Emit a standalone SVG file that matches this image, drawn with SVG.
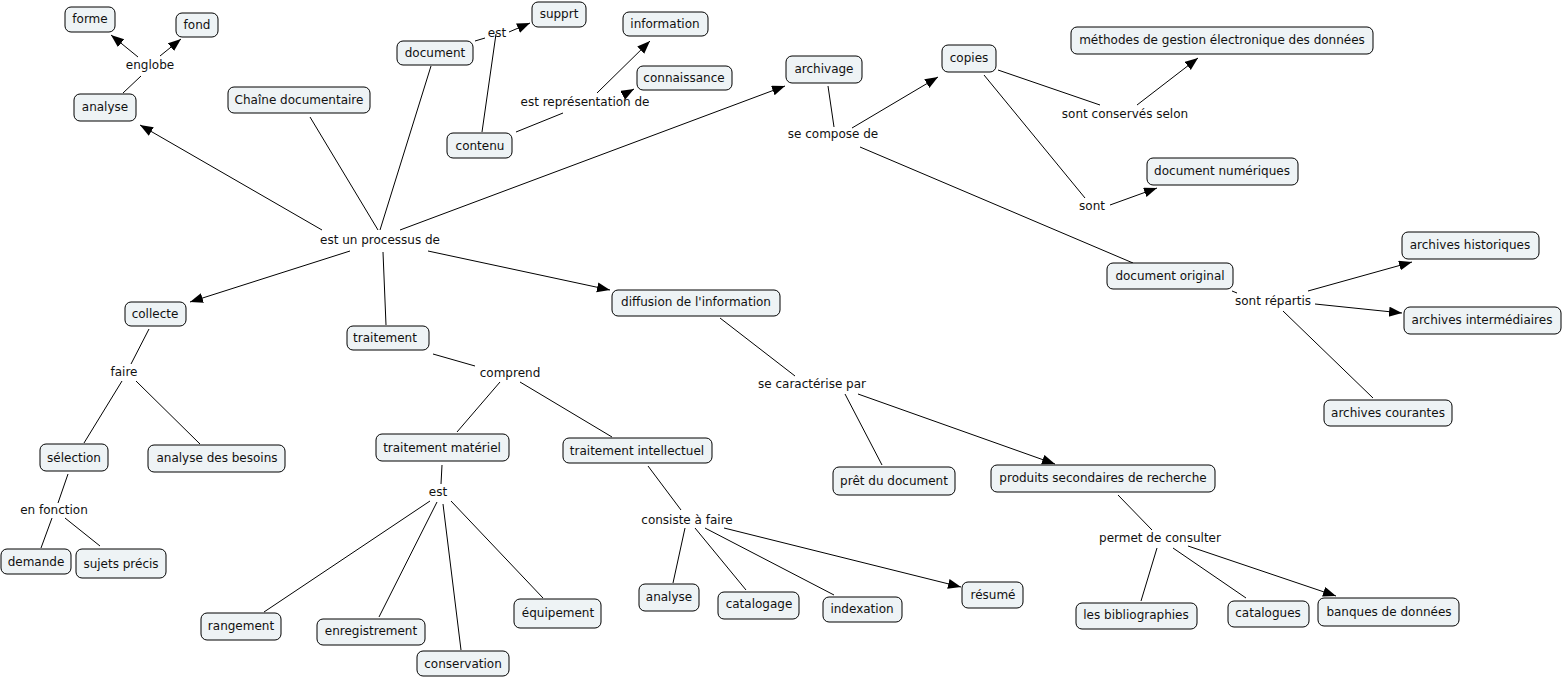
<svg xmlns="http://www.w3.org/2000/svg" width="1564" height="679" viewBox="0 0 1564 679">
<style>
.n rect{fill:#eef3f5;stroke:#000;stroke-width:1;}
text{font-family:"DejaVu Sans",Verdana,sans-serif;font-size:12px;fill:#111;text-anchor:middle;dominant-baseline:central;}
.c line{stroke:#000;stroke-width:1;}
.a{marker-end:url(#ah);}
</style>
<defs>
<marker id="ah" markerUnits="userSpaceOnUse" markerWidth="14" markerHeight="12" refX="13" refY="5" orient="auto">
<path d="M0,0 L13,5 L0,10 Z" fill="#000"/>
</marker>
</defs>
<rect width="1564" height="679" fill="#fff"/>
<g id="connectors" class="c">
<line class="a" x1="322" y1="230" x2="140" y2="125"/>
<line x1="310" y1="117" x2="378" y2="230"/>
<line x1="431" y1="66" x2="380" y2="230"/>
<line class="a" x1="400" y1="230" x2="785" y2="86"/>
<line class="a" x1="350" y1="251" x2="190" y2="302"/>
<line x1="383" y1="252" x2="386" y2="325"/>
<line class="a" x1="428" y1="251" x2="610" y2="290"/>
<line x1="123" y1="93" x2="141" y2="76"/>
<line class="a" x1="138" y1="57" x2="111" y2="35"/>
<line class="a" x1="160" y1="56" x2="181" y2="39"/>
<line x1="475" y1="41" x2="485" y2="38"/>
<line class="a" x1="509" y1="32" x2="530" y2="23"/>
<line x1="482" y1="132" x2="496" y2="34"/>
<line x1="516" y1="132" x2="563" y2="113"/>
<line class="a" x1="597" y1="93" x2="650" y2="41"/>
<line class="a" x1="625" y1="94" x2="634" y2="89"/>
<line x1="828" y1="86" x2="834" y2="127"/>
<line class="a" x1="852" y1="128" x2="938" y2="77"/>
<line x1="860" y1="147" x2="1133" y2="263"/>
<line x1="998" y1="70" x2="1100" y2="105"/>
<line class="a" x1="1137" y1="105" x2="1198" y2="58"/>
<line x1="984" y1="75" x2="1085" y2="198"/>
<line class="a" x1="1110" y1="205" x2="1157" y2="188"/>
<line x1="1232" y1="291" x2="1237" y2="293"/>
<line class="a" x1="1308" y1="291" x2="1412" y2="262"/>
<line class="a" x1="1315" y1="304" x2="1402" y2="313"/>
<line x1="1283" y1="311" x2="1373" y2="398"/>
<line x1="149" y1="329" x2="131" y2="364"/>
<line x1="122" y1="381" x2="84" y2="443"/>
<line x1="136" y1="381" x2="200" y2="444"/>
<line x1="68" y1="474" x2="58" y2="503"/>
<line x1="52" y1="518" x2="41" y2="548"/>
<line x1="65" y1="518" x2="100" y2="546"/>
<line x1="433" y1="354" x2="475" y2="366"/>
<line x1="500" y1="382" x2="457" y2="432"/>
<line x1="520" y1="382" x2="612" y2="437"/>
<line x1="442" y1="465" x2="441" y2="484"/>
<line x1="430" y1="501" x2="264" y2="612"/>
<line x1="437" y1="502" x2="379" y2="617"/>
<line x1="443" y1="504" x2="461" y2="650"/>
<line x1="451" y1="501" x2="543" y2="598"/>
<line x1="648" y1="466" x2="681" y2="510"/>
<line x1="685" y1="528" x2="673" y2="583"/>
<line x1="695" y1="528" x2="746" y2="590"/>
<line x1="705" y1="528" x2="834" y2="595"/>
<line class="a" x1="724" y1="528" x2="961" y2="587"/>
<line x1="720" y1="318" x2="795" y2="376"/>
<line x1="845" y1="394" x2="882" y2="465"/>
<line class="a" x1="858" y1="394" x2="1055" y2="464"/>
<line x1="1118" y1="495" x2="1152" y2="530"/>
<line x1="1157" y1="548" x2="1141" y2="601"/>
<line x1="1173" y1="548" x2="1246" y2="598"/>
<line class="a" x1="1188" y1="546" x2="1336" y2="596"/>
</g>
<g id="forme" class="n"><rect x="65" y="7" width="50" height="25" rx="6"/><text x="90" y="19">forme</text></g>
<g id="fond" class="n"><rect x="176" y="13" width="42" height="24" rx="6"/><text x="197" y="25">fond</text></g>
<g id="analyse" class="n"><rect x="74" y="94" width="62" height="27" rx="6"/><text x="105" y="107">analyse</text></g>
<g id="chaine" class="n"><rect x="228" y="87" width="142" height="26" rx="6"/><text x="299" y="100">Chaîne documentaire</text></g>
<g id="document" class="n"><rect x="397" y="41" width="76" height="24" rx="6"/><text x="435" y="53">document</text></g>
<g id="suppprt" class="n"><rect x="532" y="2" width="54" height="25" rx="6"/><text x="559" y="14">supprt</text></g>
<g id="information" class="n"><rect x="623" y="12" width="85" height="24" rx="6"/><text x="665" y="24">information</text></g>
<g id="connaissance" class="n"><rect x="637" y="66" width="95" height="24" rx="6"/><text x="684" y="78">connaissance</text></g>
<g id="contenu" class="n"><rect x="447" y="133" width="65" height="25" rx="6"/><text x="480" y="146">contenu</text></g>
<g id="archivage" class="n"><rect x="786" y="56" width="76" height="27" rx="6"/><text x="824" y="69">archivage</text></g>
<g id="copies" class="n"><rect x="942" y="45" width="54" height="27" rx="6"/><text x="969" y="58">copies</text></g>
<g id="methodes" class="n"><rect x="1071" y="27" width="302" height="27" rx="6"/><text x="1222" y="40">méthodes de gestion électronique des données</text></g>
<g id="docnum" class="n"><rect x="1147" y="158" width="151" height="27" rx="6"/><text x="1222" y="171">document numériques</text></g>
<g id="docorig" class="n"><rect x="1107" y="263" width="126" height="26" rx="6"/><text x="1170" y="276">document original</text></g>
<g id="archhist" class="n"><rect x="1402" y="232" width="137" height="27" rx="6"/><text x="1470" y="245">archives historiques</text></g>
<g id="archinter" class="n"><rect x="1404" y="307" width="157" height="27" rx="6"/><text x="1482" y="320">archives intermédiaires</text></g>
<g id="archcour" class="n"><rect x="1324" y="400" width="128" height="26" rx="6"/><text x="1388" y="413">archives courantes</text></g>
<g id="collecte" class="n"><rect x="125" y="302" width="61" height="24" rx="6"/><text x="155" y="314">collecte</text></g>
<g id="traitement" class="n"><rect x="347" y="326" width="82" height="24" rx="6"/><text x="385" y="338">traitement</text></g>
<g id="selection" class="n"><rect x="40" y="444" width="68" height="27" rx="6"/><text x="74" y="458">sélection</text></g>
<g id="besoins" class="n"><rect x="148" y="445" width="137" height="27" rx="6"/><text x="217" y="458">analyse des besoins</text></g>
<g id="demande" class="n"><rect x="1" y="549" width="70" height="25" rx="6"/><text x="36" y="562">demande</text></g>
<g id="sujets" class="n"><rect x="76" y="549" width="90" height="29" rx="6"/><text x="121" y="564">sujets précis</text></g>
<g id="tmat" class="n"><rect x="376" y="434" width="133" height="27" rx="6"/><text x="442" y="448">traitement matériel</text></g>
<g id="rangement" class="n"><rect x="201" y="613" width="80" height="27" rx="6"/><text x="241" y="626">rangement</text></g>
<g id="enregistrement" class="n"><rect x="317" y="619" width="108" height="26" rx="6"/><text x="371" y="631">enregistrement</text></g>
<g id="conservation" class="n"><rect x="417" y="651" width="92" height="25" rx="6"/><text x="463" y="664">conservation</text></g>
<g id="equipement" class="n"><rect x="514" y="599" width="87" height="29" rx="6"/><text x="558" y="613">équipement</text></g>
<g id="tint" class="n"><rect x="563" y="438" width="149" height="25" rx="6"/><text x="637" y="451">traitement intellectuel</text></g>
<g id="analyse2" class="n"><rect x="639" y="584" width="60" height="27" rx="6"/><text x="669" y="597">analyse</text></g>
<g id="catalogage" class="n"><rect x="718" y="592" width="81" height="27" rx="6"/><text x="759" y="604">catalogage</text></g>
<g id="indexation" class="n"><rect x="823" y="597" width="79" height="25" rx="6"/><text x="862" y="609">indexation</text></g>
<g id="resume" class="n"><rect x="962" y="582" width="61" height="26" rx="6"/><text x="993" y="595">résumé</text></g>
<g id="pret" class="n"><rect x="833" y="467" width="122" height="28" rx="6"/><text x="894" y="481">prêt du document</text></g>
<g id="produits" class="n"><rect x="991" y="465" width="224" height="27" rx="6"/><text x="1103" y="478">produits secondaires de recherche</text></g>
<g id="biblio" class="n"><rect x="1076" y="603" width="121" height="26" rx="6"/><text x="1136" y="615">les bibliographies</text></g>
<g id="catalogues" class="n"><rect x="1228" y="601" width="81" height="26" rx="6"/><text x="1268" y="613">catalogues</text></g>
<g id="banques" class="n"><rect x="1318" y="598" width="141" height="28" rx="6"/><text x="1389" y="612">banques de données</text></g>
<g id="diffusion" class="n"><rect x="612" y="290" width="168" height="26" rx="6"/><text x="696" y="302">diffusion de l'information</text></g>
<g id="l-englobe"><text x="150" y="65">englobe</text></g>
<g id="l-est1"><text x="497" y="33">est</text></g>
<g id="l-estrep"><text x="585" y="102">est représentation de</text></g>
<g id="l-processus"><text x="380" y="240">est un processus de</text></g>
<g id="l-compose"><text x="833" y="134">se compose de</text></g>
<g id="l-conserves"><text x="1125" y="114">sont conservés selon</text></g>
<g id="l-sont"><text x="1092" y="206">sont</text></g>
<g id="l-repartis"><text x="1273" y="301">sont répartis</text></g>
<g id="l-faire"><text x="124" y="372">faire</text></g>
<g id="l-fonction"><text x="54" y="510">en fonction</text></g>
<g id="l-comprend"><text x="510" y="373">comprend</text></g>
<g id="l-est2"><text x="438" y="492">est</text></g>
<g id="l-consiste"><text x="687" y="520">consiste à faire</text></g>
<g id="l-caracterise"><text x="812" y="384">se caractérise par</text></g>
<g id="l-permet"><text x="1160" y="538">permet de consulter</text></g>
</svg>
